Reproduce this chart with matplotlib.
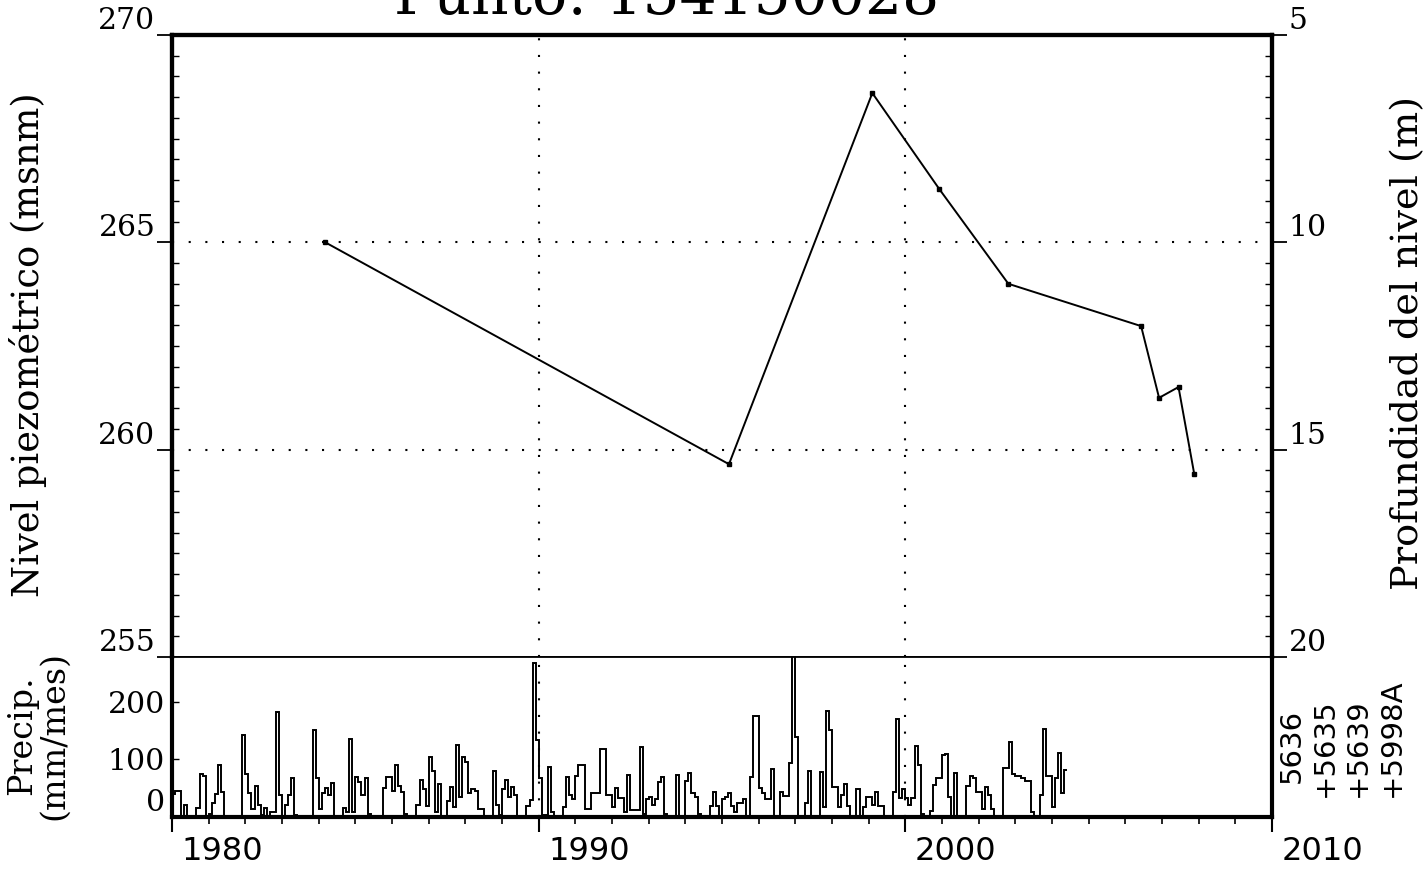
import numpy as np
import matplotlib
matplotlib.use('Agg')
import matplotlib.pyplot as plt
import matplotlib.transforms as mtransforms
from matplotlib.ticker import MultipleLocator

plt.rcParams['font.family'] = 'DejaVu Serif'

title = 'Punto: 154150028'
level_years = [1984.18, 1995.19, 1999.10, 2000.93, 2002.81, 2006.43, 2006.92, 2007.45, 2007.88]
level_msnm = [265.0, 259.65, 268.6, 266.28, 264.0, 262.98, 261.25, 261.51, 259.41]

precip_start = 1980.0
# monthly precipitation (mm/mes), Jan 1980 onwards
precip_mm = [
    40, 46, 46, 0, 20, 0, 0, 0, 15, 75, 72, 0,          # 1980
    5, 24, 40, 91, 44, 0, 0, 0, 0, 0, 0, 143,           # 1981
    75, 42, 14, 54, 21, 3, 15, 0, 8, 8, 183, 38,        # 1982
    0, 20, 38, 67, 3, 0, 0, 0, 0, 0, 151, 68,           # 1983
    14, 41, 50, 39, 59, 0, 0, 0, 15, 8, 135, 8,         # 1984
    69, 61, 38, 68, 5, 0, 0, 0, 0, 50, 70, 70,          # 1985
    46, 91, 54, 44, 5, 0, 0, 0, 21, 64, 49, 19,         # 1986
    104, 80, 8, 57, 0, 0, 27, 52, 17, 125, 35, 104,     # 1987
    95, 41, 49, 46, 14, 14, 0, 0, 0, 80, 20, 3,         # 1988
    49, 65, 35, 52, 39, 0, 0, 0, 19, 29, 268, 134,      # 1989
    68, 3, 3, 87, 9, 0, 0, 0, 17, 70, 39, 32,           # 1990
    72, 90, 90, 14, 14, 41, 41, 41, 118, 118, 38, 38,   # 1991
    17, 50, 33, 33, 8, 73, 12, 12, 12, 121, 5, 32,      # 1992
    35, 21, 32, 61, 69, 5, 0, 0, 0, 73, 0, 0,           # 1993
    62, 76, 41, 35, 5, 0, 0, 0, 19, 44, 19, 0,          # 1994
    32, 35, 41, 19, 8, 24, 24, 32, 0, 69, 176, 176,     # 1995
    50, 41, 32, 32, 83, 0, 0, 43, 36, 36, 94, 290,      # 1996
    139, 0, 0, 25, 80, 0, 0, 0, 79, 17, 184, 152,       # 1997
    52, 52, 17, 39, 57, 19, 0, 0, 48, 0, 17, 35,        # 1998
    35, 20, 44, 19, 19, 0, 0, 0, 43, 170, 33, 49,       # 1999
    33, 20, 33, 123, 91, 5, 0, 0, 10, 55, 67, 67,       # 2000
    107, 110, 35, 0, 76, 0, 0, 0, 54, 72, 67, 43,       # 2001
    43, 14, 52, 39, 14, 0, 0, 0, 85, 85, 131, 75,       # 2002
    71, 71, 67, 62, 62, 8, 0, 0, 38, 153, 72, 72,       # 2003
    17, 67, 111, 41, 82,                                # 2004
]
stations = ['5636', '+5635', '+5639', '+5998A']

level_ticks = [255, 260, 265, 270]
depth_ticks = [5, 10, 15, 20]
precip_ticks = [0, 100, 200]
year_ticks = [1980, 1990, 2000, 2010]
grid_years = [1990, 2000]
grid_levels = [260, 265]

# --- layout in pixels ---
W, H = 1424, 869
def fx(px):
    return px / W
def fy(py):
    return 1 - py / H

fig = plt.figure(figsize=(W / 100, H / 100), dpi=100)
ax = fig.add_axes([fx(172), fy(657), fx(1272) - fx(172), fy(35) - fy(657)])
axp = fig.add_axes([fx(172), fy(817), fx(1272) - fx(172), fy(657) - fy(817)])

dots = (0, (1, 7))
thick = 3.0

# --- upper panel: piezometric level ---
ax.plot(level_years, level_msnm, color='k', lw=1.4, marker='s', ms=3.5, zorder=5)
for yv in grid_levels:
    ax.axhline(yv, color='k', lw=1.5, ls=dots, zorder=1)
for xv in grid_years:
    ax.axvline(xv, color='k', lw=1.5, ls=dots, zorder=1)

ax.set_xlim(1980, 2010)
ax.set_ylim(255, 270)
ax.set_yticks(level_ticks)
ax.yaxis.set_minor_locator(MultipleLocator(0.5))
ax.tick_params(axis='x', which='both', bottom=False, top=False, labelbottom=False)
ax.tick_params(axis='y', which='major', direction='out', length=11, width=1.3,
               labelsize=21.5, pad=1)
ax.tick_params(axis='y', which='minor', direction='in', length=5, width=1)
for lab in ax.get_yticklabels():
    lab.set_va('bottom')
for s in ['left', 'right', 'top']:
    ax.spines[s].set_linewidth(thick)
ax.spines['bottom'].set_linewidth(1.3)

axr = ax.twinx()
axr.set_ylim(20, 5)
axr.set_yticks(depth_ticks)
axr.yaxis.set_minor_locator(MultipleLocator(0.5))
axr.tick_params(axis='y', which='major', direction='out', length=11, width=1.3,
                labelsize=21.5, pad=1)
axr.tick_params(axis='y', which='minor', direction='in', length=5, width=1)
for lab in axr.get_yticklabels():
    lab.set_va('bottom')
for s in ['left', 'right', 'top']:
    axr.spines[s].set_linewidth(thick)
axr.spines['bottom'].set_linewidth(1.3)

# --- lower panel: monthly precipitation ---
edges = precip_start + np.arange(len(precip_mm) + 1) / 12.0
axp.stairs(precip_mm, edges, baseline=None, color='k', lw=1.4, zorder=3)
for xv in grid_years:
    axp.axvline(xv, color='k', lw=1.5, ls=dots, zorder=1)

axp.set_xlim(1980, 2010)
axp.set_ylim(0, 278)
axp.set_yticks(precip_ticks)
axp.tick_params(axis='y', direction='in', length=5, width=1, labelsize=21.5, pad=5)
axp.tick_params(axis='y', right=False)
ylabs = axp.get_yticklabels()
ylabs[0].set_va('bottom')

axp.set_xticks(year_ticks)
axp.xaxis.set_minor_locator(MultipleLocator(1))
axp.tick_params(axis='x', which='major', direction='out', length=11, width=1.5,
                labelsize=23, pad=3)
axp.tick_params(axis='x', which='minor', direction='out', length=5, width=1.2)
offset = mtransforms.ScaledTranslation(7 / 72, 0, fig.dpi_scale_trans)
for lab in axp.get_xticklabels():
    lab.set_ha('left')
    lab.set_family('DejaVu Sans')
    lab.set_transform(lab.get_transform() + offset)
for s in ['left', 'right', 'bottom']:
    axp.spines[s].set_linewidth(thick)
axp.spines['top'].set_visible(False)

# --- texts ---
fig.text(fx(667), fy(14), title, ha='center', va='baseline', fontsize=42)
fig.text(fx(28), fy(345), 'Nivel piezométrico (msnm)', rotation=90,
         ha='center', va='center', fontsize=26.5)
fig.text(fx(1408), fy(343), 'Profundidad del nivel (m)', rotation=90,
         ha='center', va='center', fontsize=27.5)
fig.text(fx(38), fy(735), 'Precip.\n(mm/mes)', rotation=90, ha='center',
         va='center', fontsize=24, multialignment='center', linespacing=1.0)

st_x = [1292, 1325, 1358, 1392]
st_bottom = [783, 797, 797, 797]
for name, xp, yb in zip(stations, st_x, st_bottom):
    fig.text(fx(xp), fy(yb), name, rotation=90, ha='center', va='bottom',
             fontsize=21, family='DejaVu Sans')

fig.savefig('out.png', dpi=100)
